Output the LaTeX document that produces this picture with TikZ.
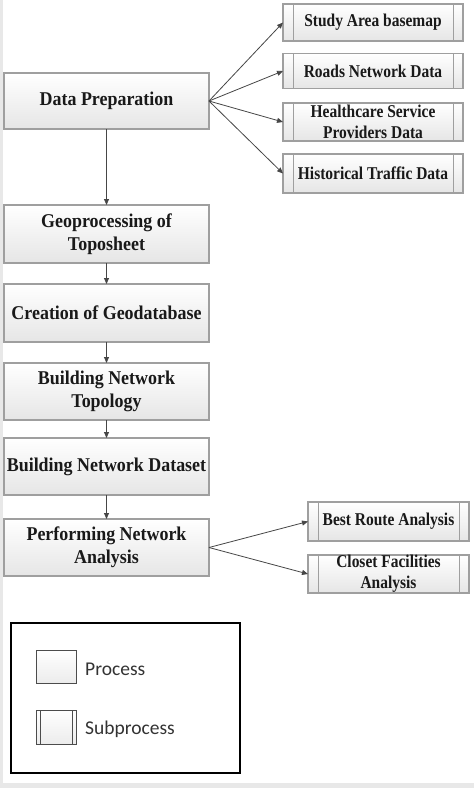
\documentclass[tikz,border=0pt]{standalone}
\usepackage{fontspec}
\setmainfont{Liberation Serif}
\newfontfamily\mainboxfont[FakeStretch=0.92]{Liberation Serif}
\newfontfamily\subboxfont[FakeStretch=0.86]{Liberation Serif}
\newfontfamily\legendfont{Carlito}
\usetikzlibrary{arrows.meta,shadings}
\begin{document}
\begin{tikzpicture}[x=1pt,y=-1pt,
  boxbase/.style={draw=gray!75,line width=1.1pt,top color=white,bottom color=gray!20,
     inner sep=0pt,outer sep=0pt,align=center,text=black!90},
  procbox/.style={boxbase,minimum width=205pt,font=\mainboxfont\fontsize{19.5}{23}\selectfont\bfseries},
  subbox/.style={boxbase,font=\subboxfont\fontsize{18}{21}\selectfont\bfseries,
     path picture={\draw[gray!75,line width=0.9pt]
       ([xshift=10pt]path picture bounding box.north west) -- ([xshift=10pt]path picture bounding box.south west)
       ([xshift=-10pt]path picture bounding box.north east) -- ([xshift=-10pt]path picture bounding box.south east);}},
  iconbox/.style={draw=gray!60!black,line width=0.9pt,top color=white,bottom color=gray!15,
     inner sep=0pt,outer sep=0pt,minimum width=40pt,minimum height=33pt},
  conn/.style={draw=gray!55!black,line width=0.8pt,-{Triangle[length=6pt,width=5pt]}},
  legtext/.style={anchor=west,inner sep=0pt,font=\legendfont\fontsize{19.5}{22}\selectfont,text=black!80}
]
\useasboundingbox (0,0) rectangle (474,788);
\fill[gray!18] (0,0) rectangle (474,788);
\fill[white] (3,0) rectangle (474,783);

% main process boxes
\node[procbox,minimum height=56pt] (dp) at (106.5,101) {Data Preparation};
\node[procbox,minimum height=58pt] (geo) at (106.5,234) {Geoprocessing of\\Toposheet};
\node[procbox,minimum height=58pt] (cg) at (106.5,313) {Creation of Geodatabase};
\node[procbox,minimum height=57pt] (bnt) at (106.5,391.5) {Building Network\\Topology};
\node[procbox,minimum height=57pt] (bnd) at (106.5,466.5) {Building Network Dataset};
\node[procbox,minimum height=57pt] (pna) at (106.5,547.5) {Performing Network\\Analysis};

% subprocess boxes
\node[subbox,minimum width=180pt,minimum height=37pt] (sa) at (373,22.5) {Study Area basemap};
\node[subbox,minimum width=180pt,minimum height=35pt] (rn) at (373,71) {Roads Network Data};
\node[subbox,minimum width=180pt,minimum height=38pt] (hs) at (373,122) {Healthcare Service\\Providers Data};
\node[subbox,minimum width=180pt,minimum height=39pt] (ht) at (373,173.5) {Historical Traffic Data};
\node[subbox,minimum width=161pt,minimum height=39pt] (br) at (388.5,521.5) {Best Route Analysis};
\node[subbox,minimum width=161pt,minimum height=38pt] (cf) at (388.5,574) {Closet Facilities\\Analysis};

% connectors
\draw[conn] (dp.south) -- (geo.north);
\draw[conn] (geo.south) -- (cg.north);
\draw[conn] (cg.south) -- (bnt.north);
\draw[conn] (bnt.south) -- (bnd.north);
\draw[conn] (bnd.south) -- (pna.north);
\draw[conn] (dp.east) -- (sa.west);
\draw[conn] (dp.east) -- (rn.west);
\draw[conn] (dp.east) -- (hs.west);
\draw[conn] (dp.east) -- (ht.west);
\draw[conn] (pna.east) -- (br.west);
\draw[conn] (pna.east) -- (cf.west);

% legend
\node[draw=black,line width=1.3pt,inner sep=0pt,outer sep=0pt,minimum width=229pt,minimum height=150pt] (leg) at (125.5,698) {};
\node[iconbox] (lp) at (56,666.5) {};
\node[iconbox,minimum height=34pt,
  path picture={\draw[gray!60!black,line width=0.8pt]
    ([xshift=4pt]path picture bounding box.north west) -- ([xshift=4pt]path picture bounding box.south west)
    ([xshift=-4pt]path picture bounding box.north east) -- ([xshift=-4pt]path picture bounding box.south east);}] (ls) at (56,727) {};
\node[legtext] (lpt) at (85,669) {Process};
\node[legtext] (lst) at (85,729) {Subprocess};
\end{tikzpicture}
\end{document}
